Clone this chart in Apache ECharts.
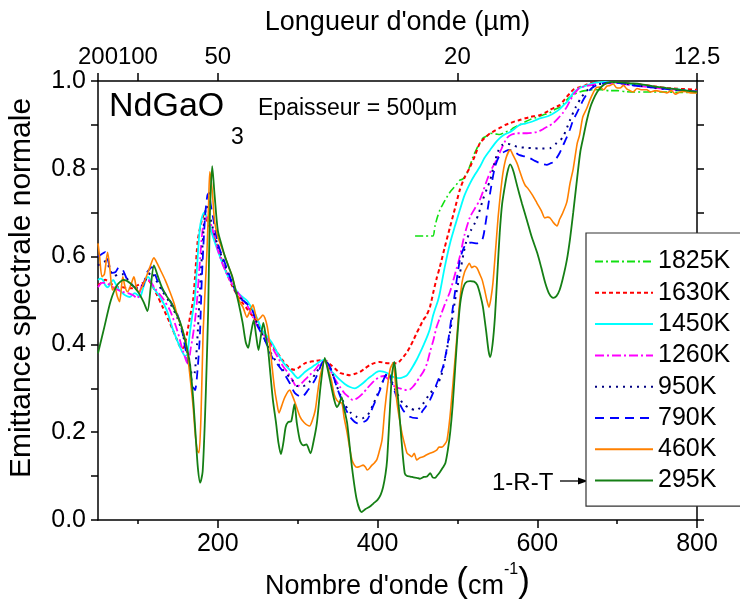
<!DOCTYPE html>
<html>
<head>
<meta charset="utf-8">
<script src="https://cdn.jsdelivr.net/npm/echarts@6/dist/echarts.min.js"></script>
<style>
  html, body { margin: 0; padding: 0; background: #fff; }
  #chart { width: 740px; height: 606px; }
</style>
</head>
<body>
<div id="chart"></div>
<script>
// Normal spectral emittance of NdGaO3 (500 µm thick) at several temperatures.
// Each series: [wavenumber (cm-1), emittance]
const temperatures = ['1825K', '1630K', '1450K', '1260K', '950K', '790K', '460K', '295K'];

const e1825 = [[447,0.647],[452,0.647],[458,0.647],[464,0.647],[469.4,0.647],[472,0.67],[475,0.69],[478,0.706],[482,0.72],[487,0.736],[490,0.745],[494.5,0.755],[500,0.767],[503,0.774],[507,0.777],[512,0.79],[516,0.808],[519.5,0.827],[524,0.845],[528,0.858],[532,0.87],[537,0.875],[541,0.881],[545,0.88],[549,0.879],[553,0.878],[558,0.882],[562,0.885],[566,0.887],[570,0.893],[578,0.9],[585,0.907],[591,0.912],[597,0.916],[603,0.92],[610,0.924],[616,0.928],[622,0.935],[628,0.94],[633,0.948],[637,0.957],[641,0.963],[645,0.968],[649,0.972],[653,0.975],[660,0.978],[670,0.98],[680,0.98],[690,0.978],[700,0.978],[710,0.976],[720,0.975],[740,0.975],[760,0.975],[780,0.974],[800,0.974]];

const e1630 = [[50,0.535],[54,0.54],[59,0.547],[65,0.54],[74,0.53],[81,0.53],[87,0.528],[92.6,0.528],[100,0.535],[109,0.542],[113,0.545],[117.6,0.535],[124,0.512],[131,0.485],[140,0.449],[149,0.41],[152.6,0.395],[155,0.39],[158,0.395],[160,0.41],[163,0.44],[166,0.47],[169,0.5],[171.5,0.554],[175,0.638],[180,0.683],[182.7,0.695],[186,0.685],[190,0.667],[196.5,0.638],[205,0.592],[213,0.554],[219,0.53],[225.6,0.508],[232,0.492],[238,0.478],[244,0.463],[250,0.449],[256,0.43],[263,0.41],[269,0.395],[275,0.38],[281,0.364],[288,0.349],[292,0.344],[296.6,0.342],[302,0.348],[309,0.357],[315,0.36],[321.6,0.362],[328,0.364],[334,0.364],[340.5,0.355],[346.7,0.345],[353,0.335],[359,0.332],[365.5,0.33],[372,0.333],[378,0.337],[384,0.345],[390.5,0.353],[397,0.358],[403,0.36],[409,0.358],[415.5,0.357],[420,0.357],[424,0.357],[428,0.362],[432,0.371],[436,0.38],[440.6,0.394],[445,0.41],[449,0.426],[453,0.44],[457,0.455],[461,0.465],[465.6,0.485],[470,0.52],[474,0.55],[478,0.576],[484,0.62],[490.7,0.667],[497,0.71],[503,0.752],[509,0.78],[515.8,0.804],[522,0.83],[528,0.858],[534,0.87],[541,0.881],[547,0.887],[553,0.893],[560,0.9],[566,0.904],[572,0.908],[578,0.911],[585,0.915],[591,0.918],[597,0.92],[603,0.922],[610,0.928],[616,0.934],[622,0.94],[628,0.945],[633,0.955],[637,0.964],[641,0.972],[645,0.98],[653,0.986],[660,0.99],[666,0.995],[678.6,0.998],[700,0.997],[715,0.994],[732,0.991],[750,0.987],[762,0.984],[780,0.982],[800,0.98]];

const e1450 = [[50,0.547],[53,0.55],[56,0.547],[59,0.535],[62.5,0.53],[66,0.54],[69,0.547],[72,0.538],[75,0.528],[80,0.518],[84,0.512],[90,0.508],[96,0.517],[102.6,0.508],[106,0.525],[109,0.542],[112.6,0.554],[116,0.545],[119,0.53],[127.6,0.508],[136,0.478],[144,0.433],[152.6,0.394],[157.7,0.376],[160,0.374],[162,0.38],[165,0.426],[168,0.465],[171,0.5],[174,0.576],[177.7,0.667],[182.7,0.7],[187.7,0.683],[194,0.645],[202.7,0.6],[208,0.575],[213,0.554],[219,0.535],[225.6,0.517],[231,0.508],[236.5,0.5],[241,0.487],[246.6,0.47],[251,0.452],[255,0.433],[261,0.42],[268,0.403],[274,0.383],[280,0.364],[286,0.35],[293,0.337],[300.4,0.323],[305,0.33],[309,0.337],[315,0.345],[321.6,0.353],[327,0.36],[331.7,0.364],[335,0.362],[338,0.349],[340.5,0.342],[347,0.33],[353,0.319],[359,0.31],[365.5,0.303],[371.7,0.3],[377,0.305],[382,0.312],[388,0.322],[394,0.33],[398,0.336],[403,0.339],[407,0.338],[412,0.335],[416,0.33],[419.6,0.326],[424,0.324],[428,0.323],[433,0.326],[437,0.33],[441,0.34],[444,0.349],[449,0.365],[453,0.38],[458,0.4],[462,0.417],[465.6,0.435],[469,0.462],[472,0.48],[475.7,0.5],[478,0.517],[484,0.575],[490.7,0.63],[497,0.67],[503,0.706],[509,0.74],[515.8,0.767],[522,0.787],[528,0.804],[534,0.825],[541,0.843],[547,0.858],[553,0.87],[559,0.878],[566,0.884],[572,0.892],[578,0.9],[585,0.903],[591,0.906],[597,0.91],[603,0.915],[610,0.918],[616,0.922],[622,0.928],[628,0.936],[633,0.945],[637,0.952],[641,0.962],[645,0.973],[649,0.979],[653,0.984],[662,0.99],[670,0.995],[685,0.998],[700,0.996],[720,0.992],[740,0.988],[760,0.983],[780,0.98],[800,0.976]];

const e1260 = [[50,0.53],[55,0.54],[59,0.54],[65,0.535],[71,0.528],[80,0.52],[87.5,0.517],[94,0.512],[99,0.505],[106,0.54],[112.6,0.547],[117,0.54],[121,0.528],[130,0.508],[140,0.478],[149,0.433],[155,0.394],[161,0.36],[163,0.357],[166,0.39],[168,0.41],[171.5,0.455],[174,0.5],[177.7,0.592],[181.5,0.667],[186.5,0.69],[192.7,0.667],[200,0.615],[206,0.583],[213,0.554],[219,0.535],[225.6,0.517],[232,0.5],[238,0.485],[244,0.462],[250,0.44],[256,0.425],[263,0.41],[269,0.39],[275,0.371],[281,0.352],[288,0.335],[293,0.32],[299,0.303],[304,0.31],[309,0.319],[315,0.33],[321.6,0.342],[326,0.352],[331.7,0.36],[334,0.364],[340.5,0.342],[347,0.32],[353,0.303],[359,0.288],[365.5,0.278],[369,0.273],[375,0.278],[382,0.289],[387,0.3],[393,0.312],[398,0.32],[403,0.326],[408,0.328],[412,0.323],[416,0.315],[419.6,0.307],[424,0.302],[428,0.3],[433,0.297],[437,0.296],[441,0.298],[444,0.303],[448,0.312],[453,0.326],[458,0.34],[462,0.357],[466,0.385],[470,0.41],[474,0.44],[478,0.46],[484,0.49],[490.7,0.52],[497,0.56],[503,0.6],[509,0.65],[515.8,0.69],[522,0.71],[528,0.729],[532,0.748],[537,0.774],[543,0.8],[549,0.82],[555,0.845],[562,0.87],[568,0.878],[574.6,0.881],[580,0.881],[587,0.881],[593,0.882],[599.6,0.884],[605,0.888],[609.6,0.893],[615,0.898],[620,0.904],[626,0.915],[632,0.927],[637,0.941],[641,0.955],[645,0.968],[649,0.977],[653,0.984],[660,0.988],[666,0.99],[680,0.994],[700,0.995],[720,0.99],[760,0.982],[800,0.976]];

const e950 = [[50,0.58],[55,0.585],[60,0.59],[65,0.57],[70,0.555],[76,0.56],[82,0.56],[88,0.545],[95,0.53],[100,0.525],[106,0.535],[112,0.555],[117,0.565],[123,0.545],[131,0.52],[140,0.495],[149,0.462],[155,0.43],[160,0.395],[165,0.355],[168,0.33],[171,0.335],[174,0.4],[177,0.5],[180,0.6],[183,0.68],[186,0.715],[189,0.7],[193,0.67],[200,0.625],[209,0.58],[218,0.54],[226,0.51],[235,0.495],[243,0.475],[250,0.445],[259,0.41],[268,0.375],[280,0.345],[293,0.319],[300,0.305],[307,0.305],[315,0.315],[323,0.335],[330,0.355],[334,0.362],[341,0.345],[349,0.305],[357,0.27],[366,0.245],[374,0.235],[381,0.232],[388,0.24],[395,0.265],[403,0.3],[409,0.325],[413,0.335],[418,0.315],[424,0.29],[432,0.265],[440,0.255],[449,0.25],[457,0.265],[466,0.289],[474,0.305],[480,0.33],[485,0.371],[491,0.43],[497,0.5],[503,0.56],[508,0.61],[512,0.64],[517,0.66],[522,0.677],[527,0.7],[532,0.73],[537,0.755],[541,0.774],[546,0.81],[551,0.84],[556,0.854],[562,0.857],[568,0.855],[575,0.85],[585,0.848],[595,0.847],[605,0.846],[616,0.847],[624,0.858],[632,0.872],[641,0.911],[648,0.94],[655,0.962],[662,0.978],[670,0.988],[680,0.994],[695,0.997],[720,0.991],[760,0.982],[800,0.976]];

const e790 = [[50,0.6],[54,0.605],[59,0.61],[62.5,0.592],[67.5,0.563],[72,0.565],[76,0.575],[81,0.57],[86,0.55],[91,0.54],[96,0.53],[101,0.528],[105,0.528],[111,0.563],[117.6,0.576],[124,0.547],[131,0.524],[140,0.5],[149,0.47],[155,0.433],[159,0.394],[165,0.342],[169,0.303],[171.5,0.296],[175,0.35],[177.7,0.426],[180,0.55],[184,0.69],[187,0.74],[189,0.745],[191,0.72],[194,0.69],[200,0.63],[209,0.585],[218,0.54],[225.6,0.508],[234,0.497],[243,0.478],[250.4,0.44],[259,0.41],[268,0.371],[280,0.342],[290,0.312],[296.6,0.289],[305,0.28],[313,0.296],[321.6,0.319],[330.4,0.357],[334,0.364],[340.5,0.349],[349,0.303],[356.7,0.266],[365.5,0.235],[375.5,0.22],[386.8,0.228],[394,0.257],[403,0.296],[409,0.326],[413,0.335],[418,0.312],[424,0.28],[432,0.25],[440.6,0.235],[449,0.232],[457,0.25],[465.6,0.273],[474.4,0.312],[482,0.349],[488,0.403],[494,0.48],[503,0.592],[508,0.62],[512,0.63],[518,0.632],[524.5,0.63],[531,0.638],[534.5,0.667],[541,0.745],[547,0.804],[553,0.831],[560,0.84],[566,0.843],[572,0.838],[578,0.831],[585,0.828],[591,0.824],[597,0.818],[603,0.813],[608,0.81],[612,0.809],[616,0.812],[620,0.815],[624,0.824],[628,0.836],[632,0.852],[637,0.872],[641,0.89],[645,0.911],[649,0.925],[653,0.94],[657,0.955],[662,0.97],[666,0.98],[670,0.986],[678.6,0.993],[690,0.996],[700,0.996],[720,0.99],[740,0.986],[760,0.982],[780,0.979],[800,0.976]];

const e460 = [[50,0.63],[52,0.6],[55,0.554],[58,0.56],[62,0.61],[65,0.57],[68,0.524],[71,0.53],[74,0.51],[77,0.497],[81,0.554],[84,0.53],[87,0.52],[91,0.535],[95,0.554],[98,0.53],[101,0.52],[105,0.53],[109,0.547],[115,0.576],[120,0.597],[124,0.585],[128,0.57],[134,0.547],[140,0.52],[145,0.495],[150,0.462],[156,0.433],[161,0.394],[165,0.33],[169,0.26],[172,0.19],[174.5,0.158],[176.5,0.153],[179,0.24],[181.5,0.42],[184,0.52],[186.5,0.615],[188.5,0.72],[190,0.793],[193,0.75],[196,0.68],[200,0.645],[205,0.62],[209,0.6],[214,0.575],[218,0.555],[223,0.52],[228,0.495],[231.5,0.485],[236.5,0.462],[240,0.475],[244,0.49],[247,0.47],[250,0.455],[253,0.46],[256.5,0.467],[259,0.46],[262,0.44],[265,0.4],[268,0.349],[271,0.3],[274,0.266],[276.6,0.244],[280,0.26],[284,0.28],[290,0.296],[293,0.285],[297,0.266],[303,0.235],[308,0.222],[315,0.214],[318,0.225],[322,0.25],[325,0.29],[328,0.326],[334,0.364],[338,0.345],[342,0.32],[346,0.285],[349,0.273],[352,0.268],[355.5,0.266],[358,0.235],[362,0.198],[365,0.165],[368,0.137],[371,0.125],[374,0.12],[378,0.122],[382,0.125],[385,0.12],[387,0.114],[390,0.118],[393,0.125],[396,0.13],[399,0.137],[402,0.155],[405.6,0.182],[409,0.25],[413,0.312],[416,0.345],[419.6,0.358],[422,0.32],[424,0.273],[427,0.235],[430.6,0.198],[434,0.172],[437,0.152],[440,0.148],[443,0.144],[446,0.152],[449,0.137],[453,0.142],[457,0.144],[461,0.148],[465.6,0.152],[470,0.155],[474,0.159],[477,0.166],[480.7,0.166],[484,0.172],[487,0.182],[490.7,0.235],[494.5,0.312],[499.5,0.42],[502,0.48],[505.7,0.54],[509,0.565],[512,0.576],[515,0.585],[518,0.575],[521,0.578],[524.5,0.574],[528,0.56],[531,0.547],[534,0.525],[537,0.5],[539.5,0.485],[542,0.505],[544.5,0.54],[548,0.62],[551,0.69],[554,0.745],[557,0.79],[561,0.825],[566,0.843],[570,0.83],[574.6,0.813],[578,0.795],[582,0.774],[585,0.762],[588,0.756],[594,0.74],[599.6,0.722],[605,0.705],[609.6,0.688],[613,0.69],[616,0.688],[620,0.678],[624.7,0.67],[628,0.685],[632,0.7],[637,0.724],[641,0.767],[645,0.8],[650,0.858],[653,0.877],[657,0.918],[662,0.938],[666,0.957],[670,0.973],[674,0.985],[678.6,0.986],[683,0.98],[687,0.988],[691,0.99],[695,0.993],[699,0.985],[703.6,0.984],[708,0.99],[712,0.982],[716,0.978],[720,0.975],[725,0.983],[730,0.98],[737,0.98],[742,0.975],[748,0.978],[755,0.976],[762,0.973],[768,0.978],[773,0.97],[778.7,0.975],[785,0.976],[792,0.973],[800,0.973]];

const e295 = [[50,0.38],[58,0.44],[66,0.5],[74,0.535],[82,0.547],[90,0.54],[100,0.52],[107,0.497],[112,0.476],[116,0.53],[120,0.58],[125,0.555],[130,0.53],[136,0.51],[142,0.494],[148,0.47],[153,0.45],[159,0.41],[165,0.357],[169,0.28],[172,0.2],[175,0.12],[178,0.085],[181,0.11],[184,0.235],[186,0.35],[188,0.48],[190,0.69],[193,0.806],[196,0.74],[200,0.66],[205,0.625],[209,0.6],[214,0.575],[218,0.555],[222,0.525],[226,0.495],[231,0.45],[235,0.405],[238,0.392],[241,0.42],[245,0.455],[248,0.42],[251,0.387],[254,0.42],[257,0.449],[260,0.42],[263,0.387],[266,0.33],[269,0.273],[273,0.22],[276,0.175],[279,0.15],[282,0.175],[285,0.212],[288,0.223],[292,0.225],[296,0.264],[299,0.22],[303,0.18],[307,0.17],[311,0.172],[316,0.152],[320,0.18],[324,0.22],[329,0.31],[334,0.369],[338,0.34],[342,0.305],[346,0.272],[349,0.257],[352,0.265],[355,0.28],[358,0.255],[362,0.22],[368,0.12],[374,0.046],[380,0.018],[385,0.025],[390,0.03],[395,0.038],[400,0.046],[404,0.058],[407,0.075],[410,0.105],[412,0.137],[415,0.235],[418,0.33],[421,0.36],[424,0.31],[427,0.25],[430,0.182],[434,0.107],[437,0.1],[441,0.099],[445,0.097],[449,0.096],[453,0.094],[458,0.098],[462,0.099],[466,0.107],[469,0.097],[472,0.096],[475,0.102],[478,0.109],[482,0.12],[485,0.13],[488,0.159],[491,0.2],[494,0.26],[497,0.34],[500,0.42],[503,0.485],[506,0.52],[510,0.54],[516,0.544],[521,0.543],[525,0.535],[529,0.51],[532,0.485],[536,0.43],[539,0.385],[541,0.371],[544,0.4],[547,0.462],[550,0.56],[553,0.654],[556,0.72],[560,0.767],[563,0.795],[566,0.81],[570,0.795],[575,0.76],[581,0.72],[587,0.683],[593,0.645],[600,0.608],[605,0.575],[610,0.54],[615,0.515],[620,0.506],[624,0.51],[628,0.524],[632,0.55],[637,0.592],[641,0.64],[645,0.7],[650,0.78],[654,0.84],[658,0.875],[662,0.91],[666,0.938],[670,0.957],[675,0.975],[681,0.988],[687,0.995],[695,0.998],[705,0.997],[715,0.995],[729,0.993],[745,0.988],[762,0.984],[780,0.98],[800,0.975]];

const seriesValues = [e1825, e1630, e1450, e1260, e950, e790, e460, e295];

// Axis ticks
const wavenumberLabels = [200, 400, 600, 800];
const wavenumberMinorTicks = [100, 300, 500, 700];
const wavelengthTicks = [200, 100, 50, 20, 12.5];   // µm, top axis

// Line appearance per temperature
const colors = ['#11e011', '#ff0000', '#00ffff', '#ff00ff', '#000080', '#0000ff', '#ff8000', '#157f15'];
const dashes = [[8, 3, 2, 3], [4, 3], 'solid', [9, 3, 2, 3], [2, 5], [9, 6], 'solid', 'solid'];
const widths = [1.6, 2, 1.8, 1.8, 2, 1.8, 1.6, 1.8];

const FONT = '"Liberation Sans", Arial, sans-serif';

const chart = echarts.init(document.getElementById('chart'), null, { renderer: 'canvas' });

const axisLineStyle = { color: '#000', width: 1.5 };

const option = {
  animation: false,
  backgroundColor: '#fff',
  textStyle: { fontFamily: FONT, color: '#000' },
  grid: { left: 98, right: 43, top: 81, bottom: 86, containLabel: false },
  xAxis: [
    {
      type: 'value', position: 'bottom', min: 50, max: 800,
      axisLine: { show: true, onZero: false, lineStyle: axisLineStyle },
      axisTick: { show: true, inside: false, length: 8, customValues: wavenumberLabels, lineStyle: axisLineStyle },
      axisLabel: { customValues: wavenumberLabels, fontSize: 25, fontFamily: FONT, color: '#000', margin: 12 },
      splitLine: { show: false },
      name: '{a|Nombre d\'onde }{p|(}{a|cm}{s|-1}{p|)}',
      nameLocation: 'middle', nameGap: 40,
      nameTextStyle: {
        rich: {
          a: { fontSize: 27, fontFamily: FONT, color: '#000', verticalAlign: 'bottom', lineHeight: 34 },
          p: { fontSize: 35, fontFamily: FONT, color: '#000', verticalAlign: 'bottom', lineHeight: 38 },
          s: { fontSize: 16, fontFamily: FONT, color: '#000', verticalAlign: 'top', lineHeight: 18 }
        }
      }
    },
    {
      type: 'value', position: 'top', min: 50, max: 800,
      axisLine: { show: true, onZero: false, lineStyle: axisLineStyle },
      axisTick: { show: true, inside: false, length: 8, customValues: wavelengthTicks.map(w => 10000 / w), lineStyle: axisLineStyle },
      axisLabel: {
        customValues: wavelengthTicks.map(w => 10000 / w),
        formatter: v => String(Math.round(10000 / v * 10) / 10),
        fontSize: 24, fontFamily: FONT, color: '#000', margin: 12,
        hideOverlap: false, showMinLabel: true, showMaxLabel: true
      },
      splitLine: { show: false },
      name: 'Longueur d\'onde (µm)',
      nameLocation: 'middle', nameGap: 45,
      nameTextStyle: { fontSize: 27, fontFamily: FONT, color: '#000' }
    },
    {
      type: 'value', position: 'bottom', min: 50, max: 800,
      axisLine: { show: false, onZero: false },
      axisTick: { show: true, inside: false, length: 4, customValues: wavenumberMinorTicks, lineStyle: axisLineStyle },
      axisLabel: { show: false },
      splitLine: { show: false }
    }
  ],
  yAxis: [
    {
      type: 'value', position: 'left', min: 0, max: 1, interval: 0.1,
      axisLine: { show: true, onZero: false, lineStyle: axisLineStyle },
      axisTick: { show: true, inside: false, length: 7, lineStyle: axisLineStyle },
      axisLabel: {
        fontSize: 25, fontFamily: FONT, color: '#000', margin: 12,
        formatter: v => (Math.round(v * 10) % 2 === 0 ? v.toFixed(1) : '')
      },
      splitLine: { show: false }
    },
    {
      type: 'value', position: 'right', min: 0, max: 1, interval: 0.1,
      axisLine: { show: true, onZero: false, lineStyle: axisLineStyle },
      axisTick: { show: true, inside: false, length: 7, lineStyle: axisLineStyle },
      axisLabel: { show: false },
      splitLine: { show: false }
    }
  ],
  legend: {
    orient: 'vertical',
    left: 586, top: 233,
    data: temperatures,
    itemWidth: 58, itemHeight: 14, itemGap: 6.3,
    padding: [16, 30, 13, 8],
    borderColor: '#333', borderWidth: 1.2,
    backgroundColor: '#fff',
    itemStyle: { opacity: 0, borderWidth: 0 },
    textStyle: { fontSize: 25, fontFamily: FONT, color: '#000', lineHeight: 25 },
    selectedMode: false
  },
  series: temperatures.map((name, i) => ({
    name,
    type: 'line',
    xAxisIndex: 0, yAxisIndex: 0,
    data: seriesValues[i],
    symbol: 'none',
    smooth: 0.25,
    lineStyle: { color: colors[i], width: widths[i], type: dashes[i] },
    itemStyle: { color: colors[i] },
    z: 2 + i
  })),
  graphic: [
    {
      type: 'text', x: 22, y: 288, rotation: Math.PI / 2,
      style: { text: 'Emittance spectrale normale', font: '30px ' + FONT, fill: '#000', align: 'center', verticalAlign: 'middle' }
    },
    {
      type: 'text', x: 109, y: 107,
      style: { text: 'NdGaO', font: '34px ' + FONT, fill: '#000', align: 'left', verticalAlign: 'middle' }
    },
    {
      type: 'text', x: 231, y: 138,
      style: { text: '3', font: '23px ' + FONT, fill: '#000', align: 'left', verticalAlign: 'middle' }
    },
    {
      type: 'text', x: 258, y: 109,
      style: { text: 'Epaisseur = 500µm', font: '23px ' + FONT, fill: '#000', align: 'left', verticalAlign: 'middle' }
    },
    {
      type: 'text', x: 492, y: 483,
      style: { text: '1-R-T', font: '24px ' + FONT, fill: '#000', align: 'left', verticalAlign: 'middle' }
    },
    {
      type: 'line', shape: { x1: 560, y1: 481, x2: 580, y2: 481 },
      style: { stroke: '#000', lineWidth: 1.3 }
    },
    {
      type: 'polygon', shape: { points: [[588, 481], [578, 477.5], [578, 484.5]] },
      style: { fill: '#000' }
    }
  ]
};

chart.setOption(option);
</script>
</body>
</html>
